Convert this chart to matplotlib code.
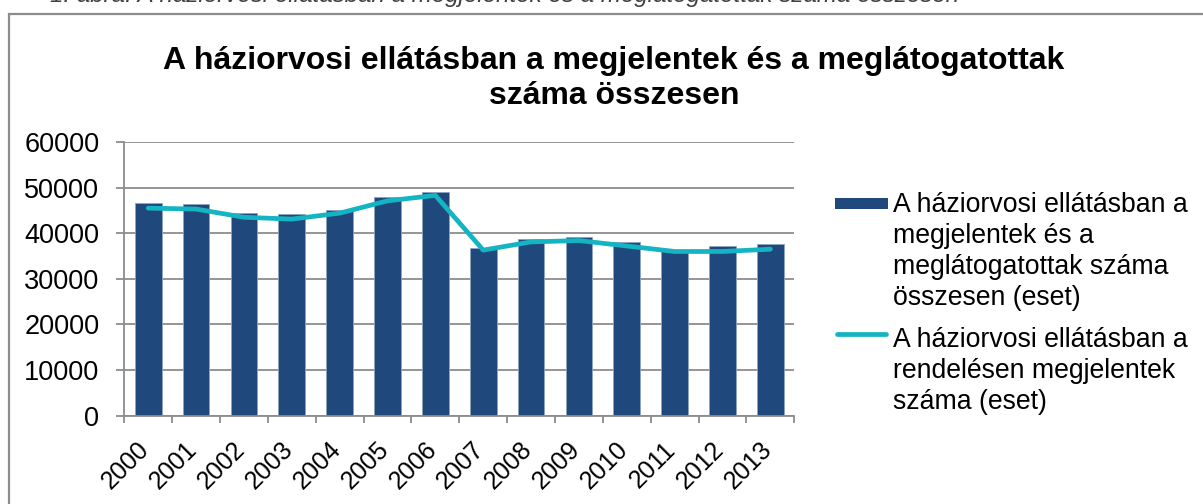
import matplotlib
matplotlib.use("Agg")
from matplotlib import pyplot as plt
from matplotlib.patches import Rectangle
from matplotlib.lines import Line2D
import matplotlib.transforms as mtrans
import numpy as np

years = ["2000", "2001", "2002", "2003", "2004", "2005", "2006",
         "2007", "2008", "2009", "2010", "2011", "2012", "2013"]
megjelentek_osszesen = [46700, 46300, 44500, 44200, 45000, 47900, 49000,
                        36700, 38700, 39100, 38000, 36200, 37300, 37600]
rendelesen_megjelentek = [45500, 45300, 43500, 43100, 44400, 47100, 48300,
                          36300, 38100, 38400, 37200, 36000, 36000, 36500]

title = "A háziorvosi ellátásban a megjelentek és a meglátogatottak\nszáma összesen"
label_bar = "A háziorvosi ellátásban a\nmegjelentek és a\nmeglátogatottak száma\nösszesen (eset)"
label_line = "A háziorvosi ellátásban a\nrendelésen megjelentek\nszáma (eset)"
caption = "1. ábra: A háziorvosi ellátásban a megjelentek és a meglátogatottak száma összesen"

bar_color = "#1F497D"
line_color = "#14B4C3"
grid_color = "#8C8C8C"

plt.rcParams['font.family'] = ['Liberation Sans', 'DejaVu Sans']

W, H = 1203, 504
fig = plt.figure(figsize=(W / 100, H / 100), dpi=100)


def fx(px):
    return px / W


def fy(py):
    return 1 - py / H


# outer frame of the chart (cut off at the right and bottom)
fig.add_artist(Rectangle((fx(9), fy(560)), fx(1300), fy(14) - fy(560),
                         transform=fig.transFigure, fill=False,
                         edgecolor=grid_color, lw=1.6, clip_on=False))

# caption above the frame, mostly cut off by the top edge
fig.text(fx(50), fy(2), caption, fontsize=17.4, style='italic',
         color='#404040', va='baseline', ha='left')

fig.text(fx(614), fy(46), title, fontsize=23, fontweight='bold',
         ha='center', va='top', linespacing=1.2)

ax = fig.add_axes([fx(124.3), fy(415.7), fx(670), fy(142) - fy(415.7)])
x = np.arange(len(years))
ax.bar(x, megjelentek_osszesen, width=0.556, color=bar_color,
       edgecolor='#8FA3BF', linewidth=0.6, zorder=2)
ax.plot(x, rendelesen_megjelentek, color=line_color, lw=3.4,
        solid_capstyle='round', solid_joinstyle='round', zorder=3)

ax.set_xlim(-0.5, len(years) - 0.5)
ax.set_ylim(0, 60000)
ax.set_yticks(np.arange(0, 60001, 10000))
ax.yaxis.grid(True, color=grid_color, lw=1.3, zorder=0)
ax.set_axisbelow(True)
for s in ['top', 'right']:
    ax.spines[s].set_visible(False)
for s in ['left', 'bottom']:
    ax.spines[s].set_color(grid_color)
    ax.spines[s].set_linewidth(1.3)

ax.set_xticks(x)
ax.set_xticklabels(years, rotation=45, ha='right', va='top',
                   rotation_mode='anchor', fontsize=18)
ax.set_xticks(np.arange(-0.5, len(years)), minor=True)
ax.tick_params(axis='x', which='major', length=0, pad=15.5)
ax.tick_params(axis='x', which='minor', length=5, width=1.3, color=grid_color)
ax.tick_params(axis='y', length=6, width=1.3, color=grid_color, pad=12,
               labelsize=19.5)
shift = mtrans.ScaledTranslation(-0.11, 0, fig.dpi_scale_trans)
for lab in ax.get_xticklabels():
    lab.set_transform(lab.get_transform() + shift)

# legend drawn by hand so the handles sit on the first line of each label
fig.add_artist(Rectangle((fx(835), fy(209)), fx(53), fy(198) - fy(209),
                         transform=fig.transFigure, facecolor=bar_color,
                         edgecolor='none'))
fig.add_artist(Line2D([fx(837), fx(886)], [fy(334), fy(334)],
                      transform=fig.transFigure, color=line_color, lw=3.4,
                      solid_capstyle='round'))
fig.text(fx(893), fy(192), label_bar, fontsize=19.2, va='top', ha='left',
         linespacing=1.25)
fig.text(fx(893), fy(327), label_line, fontsize=19.2, va='top', ha='left',
         linespacing=1.25)

fig.savefig("out.png", dpi=100)
